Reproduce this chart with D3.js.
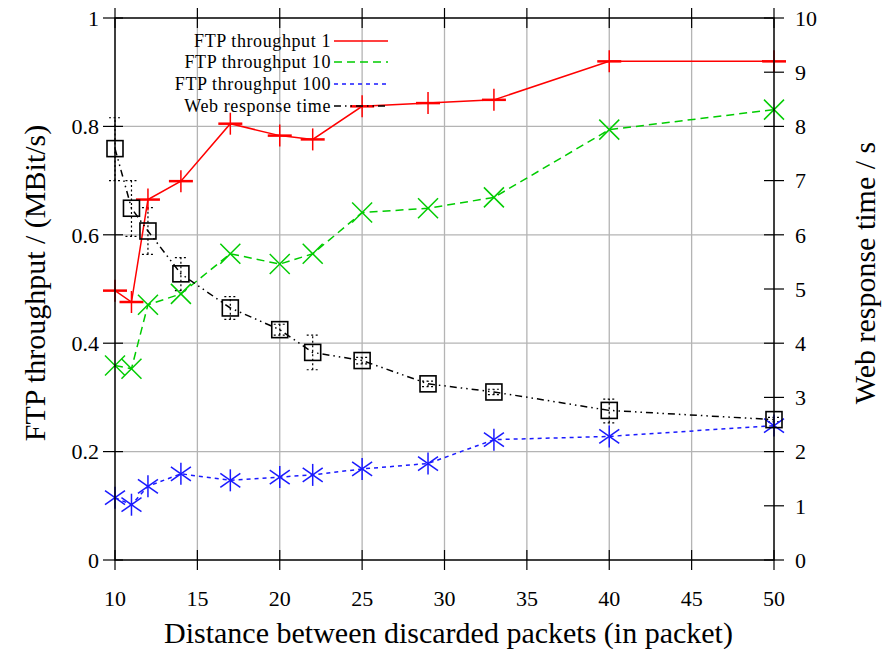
<!DOCTYPE html>
<html><head><meta charset="utf-8">
<script src="https://cdn.jsdelivr.net/npm/d3@7"></script>
<style>body{margin:0;background:#fff}svg{display:block}</style>
</head><body><svg id="c" width="887" height="649" font-family="'Liberation Serif', 'Times New Roman', Times, 'DejaVu Serif', serif"></svg>
<script>
const xValues = [10, 11, 12, 14, 17, 20, 22, 25, 29, 33, 40, 50];
const ftp1 = [0.497, 0.476, 0.665, 0.699, 0.805, 0.783, 0.776, 0.837, 0.843, 0.849, 0.92, 0.92];
const ftp10 = [0.359, 0.353, 0.471, 0.491, 0.565, 0.546, 0.565, 0.641, 0.649, 0.669, 0.794, 0.831];
const ftp100 = [0.115, 0.102, 0.136, 0.159, 0.147, 0.153, 0.157, 0.168, 0.178, 0.222, 0.228, 0.248];
const webTime = [7.59, 6.49, 6.07, 5.28, 4.65, 4.25, 3.83, 3.68, 3.25, 3.10, 2.76, 2.59];
const webLow = [7.0, 5.97, 5.64, 4.97, 4.44, 4.15, 3.51, 3.62, 3.20, 3.05, 2.53, 2.55];
const webHigh = [8.16, 7.0, 6.5, 5.58, 4.86, 4.35, 4.15, 3.74, 3.30, 3.15, 2.97, 2.63];
const xTicks = [10, 15, 20, 25, 30, 35, 40, 45, 50];
const yLeftTicks = [0, 0.2, 0.4, 0.6, 0.8, 1];
const yRightTicks = [0, 1, 2, 3, 4, 5, 6, 7, 8, 9, 10];
const seriesNames = ["FTP throughput 1", "FTP throughput 10", "FTP throughput 100", "Web response time"];

const L = 115, R = 774, T = 18, B = 560;
const svg = d3.select("#c");
const x = d3.scaleLinear().domain([10, 50]).range([L, R]);
const yL = d3.scaleLinear().domain([0, 1]).range([B, T]);
const yR = d3.scaleLinear().domain([0, 10]).range([B, T]);

// grid
const grid = svg.append("g").attr("stroke", "#b4b4b4").attr("stroke-width", 1.3);
xTicks.slice(1, -1).forEach(t => grid.append("line").attr("x1", x(t)).attr("x2", x(t)).attr("y1", T).attr("y2", B));
yLeftTicks.slice(1, -1).forEach(t => grid.append("line").attr("x1", L).attr("x2", R).attr("y1", yL(t)).attr("y2", yL(t)));

const styles = [
  {data: ftp1, color: "#ff0000", dash: null, marker: "plus", y: yL},
  {data: ftp10, color: "#00cc00", dash: "8,5", marker: "cross", y: yL},
  {data: ftp100, color: "#1a1aff", dash: "4,4", marker: "star", y: yL},
  {data: webTime, color: "#000000", dash: "7,4,1.5,4,1.5,4", marker: "box", y: yR}
];

function drawMarker(g, type, cx, cy, color) {
  const s = g.append("g").attr("stroke", color).attr("stroke-width", 1.5).attr("fill", "none");
  if (type === "plus") {
    s.append("line").attr("x1", cx - 12).attr("x2", cx + 12).attr("y1", cy).attr("y2", cy).attr("stroke-width", 2.5);
    s.append("line").attr("x1", cx).attr("x2", cx).attr("y1", cy - 11).attr("y2", cy + 11);
  } else if (type === "cross") {
    s.append("line").attr("x1", cx - 10).attr("x2", cx + 10).attr("y1", cy - 10).attr("y2", cy + 10);
    s.append("line").attr("x1", cx - 10).attr("x2", cx + 10).attr("y1", cy + 10).attr("y2", cy - 10);
  } else if (type === "star") {
    s.append("line").attr("x1", cx - 10).attr("x2", cx + 10).attr("y1", cy - 7).attr("y2", cy + 7);
    s.append("line").attr("x1", cx - 10).attr("x2", cx + 10).attr("y1", cy + 7).attr("y2", cy - 7);
    s.append("line").attr("x1", cx).attr("x2", cx).attr("y1", cy - 11).attr("y2", cy + 11);
  } else if (type === "box") {
    s.append("rect").attr("x", cx - 8).attr("y", cy - 8).attr("width", 16).attr("height", 16).attr("stroke-width", 1.6);
  }
}

// error bars for web response time
const eb = svg.append("g").attr("stroke", "#000").attr("stroke-width", 1.2).attr("stroke-dasharray", "2,2.5");
xValues.forEach((xv, i) => {
  const cx = x(xv);
  eb.append("line").attr("x1", cx).attr("x2", cx).attr("y1", yR(webLow[i])).attr("y2", yR(webHigh[i]));
  [webLow[i], webHigh[i]].forEach(v => eb.append("line").attr("x1", cx - 6).attr("x2", cx + 6).attr("y1", yR(v)).attr("y2", yR(v)));
});

// lines and markers
styles.forEach(st => {
  const line = d3.line().x((d, i) => x(xValues[i])).y(d => st.y(d));
  svg.append("path").datum(st.data).attr("d", line).attr("fill", "none")
    .attr("stroke", st.color).attr("stroke-width", 1.5).attr("stroke-dasharray", st.dash);
  const mg = svg.append("g");
  st.data.forEach((d, i) => drawMarker(mg, st.marker, x(xValues[i]), st.y(d), st.color));
});

// legend
const legY = [41, 62, 84, 106];
seriesNames.forEach((n, i) => {
  svg.append("text").attr("x", 331).attr("y", legY[i]).attr("dy", "0.35em").attr("text-anchor", "end")
    .attr("font-size", 18).attr("letter-spacing", 0.6).text(n);
  svg.append("line").attr("x1", 334).attr("x2", 388).attr("y1", legY[i]).attr("y2", legY[i])
    .attr("stroke", styles[i].color).attr("stroke-width", 1.5).attr("stroke-dasharray", styles[i].dash);
});

// border
svg.append("rect").attr("x", L).attr("y", T).attr("width", R - L).attr("height", B - T)
  .attr("fill", "none").attr("stroke", "#000").attr("stroke-width", 1.5);

// axes
const ax = svg.append("g").attr("stroke", "#000").attr("stroke-width", 1.2);
xTicks.forEach(t => {
  ax.append("line").attr("x1", x(t)).attr("x2", x(t)).attr("y1", B - 10).attr("y2", B + 10);
  ax.append("line").attr("x1", x(t)).attr("x2", x(t)).attr("y1", T - 10).attr("y2", T + 10);
});
yLeftTicks.forEach(t => ax.append("line").attr("x1", L - 12).attr("x2", L + 8).attr("y1", yL(t)).attr("y2", yL(t)));
yRightTicks.forEach(t => ax.append("line").attr("x1", R - 10).attr("x2", R + 10).attr("y1", yR(t)).attr("y2", yR(t)));

const tf = 22;
xTicks.forEach(t => svg.append("text").attr("x", x(t)).attr("y", 598).attr("dy", "0.35em")
  .attr("text-anchor", "middle").attr("font-size", tf).text(t));
yLeftTicks.forEach(t => svg.append("text").attr("x", 99).attr("y", yL(t)).attr("dy", "0.35em")
  .attr("text-anchor", "end").attr("font-size", tf).text(t));
yRightTicks.forEach(t => svg.append("text").attr("x", 795).attr("y", yR(t)).attr("dy", "0.35em")
  .attr("text-anchor", "start").attr("font-size", tf).text(t));

svg.append("text").attr("x", (L + R) / 2 + 4).attr("y", 632).attr("dy", "0.35em").attr("text-anchor", "middle")
  .attr("font-size", 30).text("Distance between discarded packets (in packet)");
svg.append("text").attr("transform", "translate(34,283) rotate(-90)").attr("dy", "0.35em").attr("text-anchor", "middle")
  .attr("font-size", 30).text("FTP throughput / (MBit/s)");
svg.append("text").attr("transform", "translate(864,273) rotate(-90)").attr("dy", "0.35em").attr("text-anchor", "middle")
  .attr("font-size", 30).text("Web response time / s");
</script></body></html>
